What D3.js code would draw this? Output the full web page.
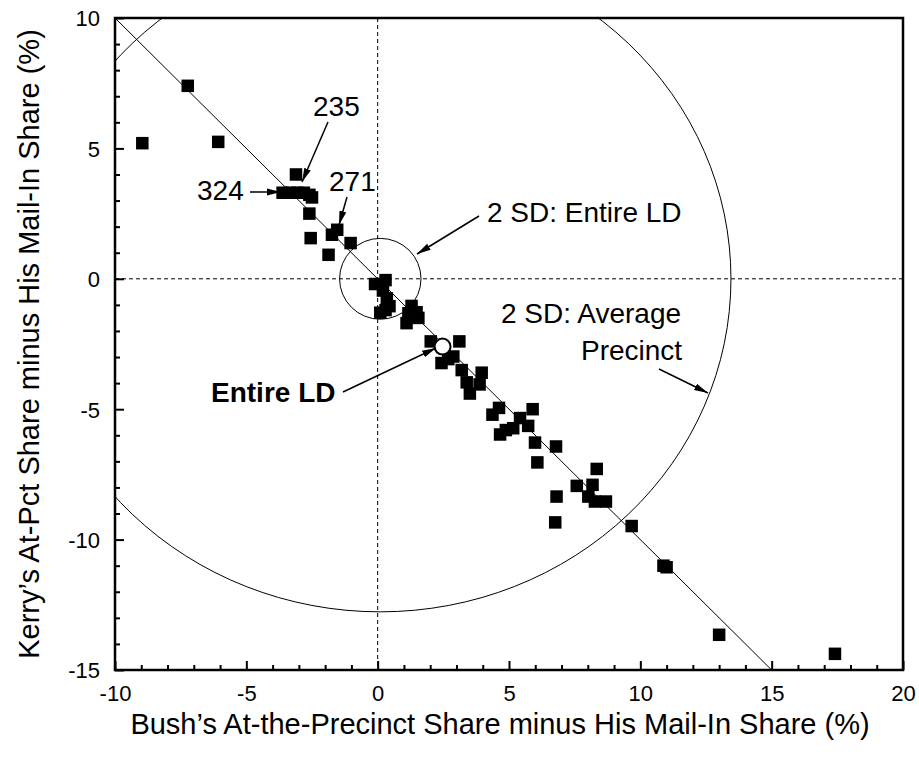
<!DOCTYPE html>
<html>
<head>
<meta charset="utf-8">
<style>
  body { margin: 0; background: #fff; }
  svg text { font-family: "Liberation Sans", Arial, sans-serif; fill: #000; }
</style>
</head>
<body>
<script src="https://cdn.jsdelivr.net/npm/d3@7"></script>
<script>
// precinct values: Bush diff (x) and Kerry diff (y), in %
var bushDiff = [-8.96, -7.23, -6.07, -3.11, -3.62, -3.34, -3.06, -2.81, -2.6, -2.5,
  -2.6, -2.55, -1.54, -1.74, -1.03, -1.87, -0.1, 0.3, 0.2, 0.35,
  0.45, 0.1, 0.3, 1.29, 1.17, 1.48, 1.55, 1.1, 2.02, 3.11,
  2.88, 2.43, 2.69, 3.2, 3.96, 3.39, 3.88, 3.51, 4.62, 4.37,
  5.9, 5.42, 5.73, 5.16, 4.88, 4.66, 5.99, 6.79, 6.08, 8.34,
  7.58, 8.18, 6.81, 8.02, 8.27, 8.69, 6.76, 9.67, 10.88, 11.0,
  13.0, 17.41];
var kerryDiff = [5.2, 7.4, 5.25, 4.0, 3.3, 3.3, 3.3, 3.3, 3.22, 3.12,
  2.5, 1.56, 1.88, 1.69, 1.37, 0.92, -0.2, -0.05, -0.45, -0.75,
  -1.05, -1.3, -1.2, -1.04, -1.32, -1.28, -1.5, -1.7, -2.4, -2.4,
  -2.98, -3.23, -3.08, -3.5, -3.6, -3.97, -4.05, -4.4, -4.95, -5.21,
  -5.0, -5.34, -5.64, -5.73, -5.8, -5.97, -6.28, -6.43, -7.04, -7.29,
  -7.94, -7.9, -8.35, -8.35, -8.54, -8.54, -9.34, -9.48, -11.0, -11.06,
  -13.65, -14.38];
var entireLD = [2.47, -2.6];
var xTicks = [-10, -5, 0, 5, 10, 15, 20];
var yTicks = [-15, -10, -5, 0, 5, 10];
// 2 SD rings (data units)
var sdCircles = [ {cx: 0.1, cy: 0, rx: 1.55, ry: 1.55}, {cx: 0.1, cy: 0, rx: 13.35, ry: 12.77} ];

var width = 919, height = 759;
var margin = {top: 18, right: 16, bottom: 89, left: 115};

var svg = d3.select("body").append("svg")
  .attr("width", width).attr("height", height);

var x = d3.scaleLinear().domain([-10, 20]).range([margin.left, width - margin.right]);
var y = d3.scaleLinear().domain([-15, 10]).range([height - margin.bottom, margin.top]);

svg.append("defs").append("clipPath").attr("id", "clip")
  .append("rect")
  .attr("x", x(-10)).attr("y", y(10))
  .attr("width", x(20) - x(-10)).attr("height", y(-15) - y(10));

var plot = svg.append("g").attr("clip-path", "url(#clip)");

// zero lines
plot.append("line")
  .attr("x1", x(0)).attr("x2", x(0)).attr("y1", y(10)).attr("y2", y(-15))
  .attr("stroke", "#000").attr("stroke-width", 1).attr("stroke-dasharray", "4,3");
plot.append("line")
  .attr("x1", x(-10)).attr("x2", x(20)).attr("y1", y(0)).attr("y2", y(0))
  .attr("stroke", "#000").attr("stroke-width", 1).attr("stroke-dasharray", "4,3");

// 2 SD circles
plot.selectAll("ellipse.sd").data(sdCircles).enter().append("ellipse")
  .attr("class", "sd")
  .attr("cx", function(d) { return x(d.cx); })
  .attr("cy", function(d) { return y(d.cy); })
  .attr("rx", function(d) { return x(d.rx) - x(0); })
  .attr("ry", function(d) { return y(0) - y(d.ry); })
  .attr("fill", "none").attr("stroke", "#000").attr("stroke-width", 1);

// y = -x line
plot.append("line")
  .attr("x1", x(-10)).attr("y1", y(10)).attr("x2", x(15)).attr("y2", y(-15))
  .attr("stroke", "#000").attr("stroke-width", 1);

var pts = bushDiff.map(function(d, i) { return [d, kerryDiff[i]]; });
var sq = 12.5;
plot.selectAll("rect.pt").data(pts).enter().append("rect")
  .attr("class", "pt")
  .attr("x", function(d) { return x(d[0]) - sq / 2; })
  .attr("y", function(d) { return y(d[1]) - sq / 2; })
  .attr("width", sq).attr("height", sq)
  .attr("fill", "#000");

plot.append("circle")
  .attr("cx", x(entireLD[0])).attr("cy", y(entireLD[1])).attr("r", 8)
  .attr("fill", "#fff").attr("stroke", "#000").attr("stroke-width", 2);

// frame
svg.append("rect")
  .attr("x", x(-10)).attr("y", y(10))
  .attr("width", x(20) - x(-10)).attr("height", y(-15) - y(10))
  .attr("fill", "none").attr("stroke", "#000").attr("stroke-width", 2.5);

// axes, ticks inside
var fmt = function(d) { return String(d); };
svg.append("g").attr("transform", "translate(0," + y(-15) + ")")
  .call(d3.axisBottom(x).tickValues(d3.range(-9, 20, 1).filter(function(v) { return v % 5 != 0; }))
    .tickSize(-5).tickFormat(""));
var xAxisMaj = svg.append("g").attr("transform", "translate(0," + y(-15) + ")")
  .call(d3.axisBottom(x).tickValues(xTicks).tickSize(-9).tickPadding(15).tickFormat(fmt));
svg.append("g").attr("transform", "translate(" + x(-10) + ",0)")
  .call(d3.axisLeft(y).tickValues(d3.range(-14, 10, 1).filter(function(v) { return v % 5 != 0; }))
    .tickSize(-5).tickFormat(""));
var yAxisMaj = svg.append("g").attr("transform", "translate(" + x(-10) + ",0)")
  .call(d3.axisLeft(y).tickValues(yTicks).tickSize(-9).tickPadding(15).tickFormat(fmt));

svg.selectAll(".domain").remove();
svg.selectAll(".tick line").attr("stroke", "#000").attr("stroke-width", 2);
svg.selectAll(".tick text").style("font-size", "22px")
  .style("font-family", "'Liberation Sans', Arial, sans-serif");
xAxisMaj.selectAll(".tick text").attr("dy", "0.71em");
yAxisMaj.selectAll(".tick text").attr("dy", "0.36em");

// axis titles
svg.append("text")
  .attr("x", (x(-10) + x(20)) / 2 - 9).attr("y", 734)
  .attr("text-anchor", "middle").style("font-size", "29px")
  .text("Bush\u2019s At-the-Precinct Share minus His Mail-In Share (%)");
svg.append("text")
  .attr("transform", "translate(39," + (y(-2.5)) + ") rotate(-90)")
  .attr("text-anchor", "middle").style("font-size", "29px")
  .text("Kerry\u2019s At-Pct Share minus His Mail-In Share (%)");

// annotations
svg.append("defs").append("marker")
  .attr("id", "arr").attr("viewBox", "0 0 14 10")
  .attr("refX", 14).attr("refY", 5)
  .attr("markerWidth", 14).attr("markerHeight", 10)
  .attr("markerUnits", "userSpaceOnUse")
  .attr("orient", "auto")
  .append("path").attr("d", "M0,1.5 L14,5 L0,8.5 Z").attr("fill", "#000");

var notes = [
  {t: "235", x: 313, y: 116, bold: false, a: [328, 122, 302, 182]},
  {t: "324", x: 197, y: 200, bold: false, a: [250, 192, 281, 192]},
  {t: "271", x: 329, y: 191, bold: false, a: [347, 197, 339, 225]},
  {t: "2 SD: Entire LD", x: 487, y: 222, bold: false, a: [479, 216, 417, 254]},
  {t: "2 SD: Average", x: 501, y: 323, bold: false, a: null},
  {t: "Precinct", x: 581, y: 360, bold: false, a: [659, 369, 708, 393]},
  {t: "Entire LD", x: 211, y: 402, bold: true, a: [343, 392, 436, 348]}
];
notes.forEach(function(n) {
  svg.append("text").attr("x", n.x).attr("y", n.y)
    .style("font-size", "28px").style("font-weight", n.bold ? "bold" : "normal")
    .text(n.t);
  if (n.a) {
    svg.append("line")
      .attr("x1", n.a[0]).attr("y1", n.a[1]).attr("x2", n.a[2]).attr("y2", n.a[3])
      .attr("stroke", "#000").attr("stroke-width", 1.5)
      .attr("marker-end", "url(#arr)");
  }
});
</script>
</body>
</html>
